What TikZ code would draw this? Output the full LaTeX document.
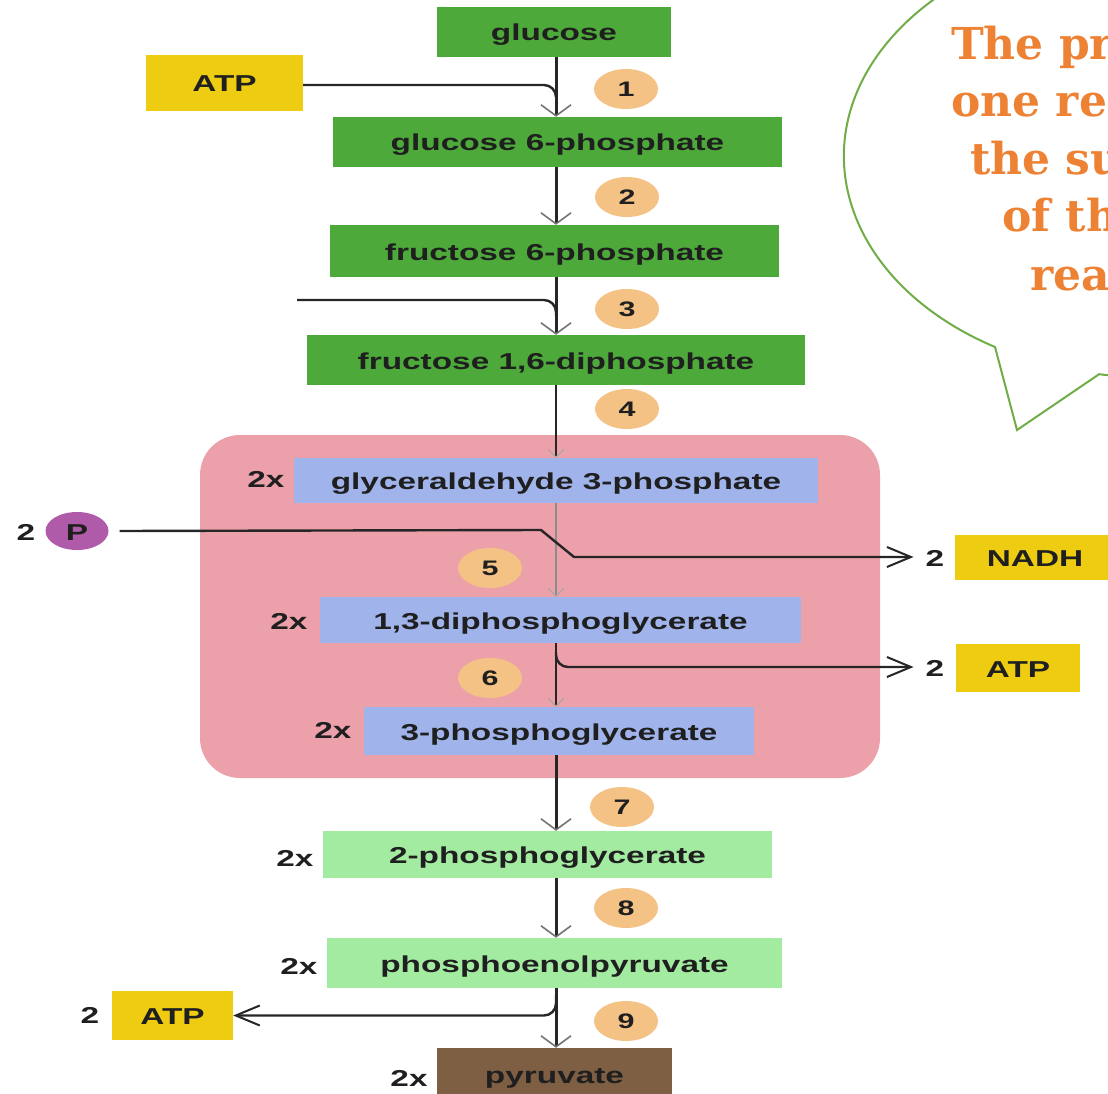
\documentclass[tikz,border=0pt]{standalone}
\usepackage{fontspec}
\usetikzlibrary{arrows.meta,shapes.geometric}
\newfontfamily\diagfont{Liberation Sans}[FakeStretch=1.45]
\newfontfamily\bubfont{DejaVu Serif}
\definecolor{dkgreen}{RGB}{76,169,58}
\definecolor{ylw}{RGB}{237,204,18}
\definecolor{pinkbg}{RGB}{236,160,170}
\definecolor{bluebx}{RGB}{160,180,235}
\definecolor{ltgreen}{RGB}{164,235,162}
\definecolor{brownbx}{RGB}{126,95,68}
\definecolor{orangec}{RGB}{243,194,132}
\definecolor{purplec}{RGB}{176,90,170}
\definecolor{orangetxt}{RGB}{238,130,52}
\definecolor{bubgreen}{RGB}{112,173,71}
\begin{document}
\begin{tikzpicture}[x=1pt,y=-1pt,
  bx/.style={inner sep=0pt, text height=18pt, text depth=0pt,
    font=\diagfont\bfseries\fontsize{23}{27}\selectfont, text=black!88},
  lbl/.style={inner sep=0pt, text height=18pt, text depth=0pt,
    font=\diagfont\bfseries\fontsize{23}{27}\selectfont, text=black!88},
  num/.style={ellipse, fill=orangec, minimum width=64pt, minimum height=40pt, inner sep=0pt,
    font=\diagfont\bfseries\fontsize{21}{24}\selectfont, text=black!88},
  spine/.style={line width=3pt, draw=black!85,
    -{Straight Barb[length=11pt,width=30pt,line width=1.6pt,color=black!55]}},
  spinein/.style={line width=2.2pt, draw=black!85,
    -{Straight Barb[length=8pt,width=16pt,line width=1pt,color=black!35]}},
  side/.style={line width=2.4pt, draw=black!85},
  outarrow/.style={-{Straight Barb[length=24pt,width=20pt,line width=2pt]}},
  bubtext/.style={anchor=base west, inner sep=0pt, text=orangetxt,
    font=\bubfont\bfseries\fontsize{44}{50}\selectfont}
]
\useasboundingbox (0,0) rectangle (1108,1094);

% pink region
\node[fill=pinkbg, rounded corners=40pt, minimum width=680pt, minimum height=343pt, inner sep=0pt] (pinkreg) at (540,606.5) {};

% speech bubble
\draw[bubgreen, line width=2pt, fill=white]
  (995,347) arc[start angle=120.3, end angle=459.4, x radius=305, y radius=221]
  -- (1017,430) -- cycle;
\node[bubtext] (b1) at (951,60) {The pr};
\node[bubtext] (b2) at (951,117) {one re};
\node[bubtext] (b3) at (970,175) {the su};
\node[bubtext] (b4) at (1002,232) {of th};
\node[bubtext] (b5) at (1030,290) {rea};

% boxes
\node[bx, fill=dkgreen, minimum width=234pt, minimum height=50pt] (glc) at (554,32) {glucose};
\node[bx, fill=dkgreen, minimum width=449pt, minimum height=50pt] (g6p) at (557.5,142) {glucose 6-phosphate};
\node[bx, fill=dkgreen, minimum width=449pt, minimum height=52pt] (f6p) at (554.5,251) {fructose 6-phosphate};
\node[bx, fill=dkgreen, minimum width=498pt, minimum height=50pt] (fbp) at (556,360) {fructose 1,6-diphosphate};
\node[bx, fill=bluebx, minimum width=524pt, minimum height=45pt] (gap) at (556,480.5) {glyceraldehyde 3-phosphate};
\node[bx, fill=bluebx, minimum width=481pt, minimum height=46pt] (dpg) at (560.5,620) {1,3-diphosphoglycerate};
\node[bx, fill=bluebx, minimum width=390pt, minimum height=48pt] (pg3) at (559,731) {3-phosphoglycerate};
\node[bx, fill=ltgreen, minimum width=449pt, minimum height=47pt] (pg2) at (547.5,854.5) {2-phosphoglycerate};
\node[bx, fill=ltgreen, minimum width=455pt, minimum height=50pt] (pep) at (554.5,963) {phosphoenolpyruvate};
\node[bx, fill=brownbx, minimum width=235pt, minimum height=52pt] (pyr) at (554.5,1074) {pyruvate};

\node[bx, fill=ylw, minimum width=157pt, minimum height=56pt] (atp1) at (224.5,83) {ATP};
\node[bx, fill=ylw, minimum width=160pt, minimum height=45pt] (nadh) at (1035,557.5) {NADH};
\node[bx, fill=ylw, minimum width=124pt, minimum height=48pt] (atp2) at (1018,668) {ATP};
\node[bx, fill=ylw, minimum width=121pt, minimum height=49pt] (atp3) at (172.5,1015.5) {ATP};

% 2x labels
\node[lbl] (x1) at (266,478) {2x};
\node[lbl] (x2) at (289,620) {2x};
\node[lbl] (x3) at (333,729) {2x};
\node[lbl] (x4) at (295,857) {2x};
\node[lbl] (x5) at (299,965) {2x};
\node[lbl] (x6) at (409,1077) {2x};

% 2 labels
\node[lbl] (n2a) at (935,557) {2};
\node[lbl] (n2b) at (935,667) {2};
\node[lbl] (n2c) at (90,1014) {2};
\node[lbl] (n2p) at (26,531) {2};
\node[ellipse, fill=purplec, minimum width=63pt, minimum height=38pt, inner sep=0pt,
  text height=18pt, text depth=0pt,
  font=\diagfont\bfseries\fontsize{23}{27}\selectfont, text=black!88] (pc) at (77,531) {P};

% step numbers
\node[num] (s1) at (626,89) {1};
\node[num] (s2) at (627,197) {2};
\node[num] (s3) at (627,309) {3};
\node[num] (s4) at (627,409) {4};
\node[num] (s5) at (490,568) {5};
\node[num] (s6) at (490,678) {6};
\node[num] (s7) at (622,807) {7};
\node[num] (s8) at (626,908) {8};
\node[num] (s9) at (626,1021) {9};

% spine
\coordinate (sx) at (556,0);
\draw[spine] (glc.south -| sx) -- (g6p.north -| sx);
\draw[spine] (g6p.south -| sx) -- (f6p.north -| sx);
\draw[spine] (f6p.south -| sx) -- (fbp.north -| sx);
\draw[spinein] (fbp.south -| sx) -- (gap.north -| sx);
\draw[spinein, draw=black!45, line width=1.6pt] (gap.south -| sx) -- (dpg.north -| sx);
\draw[spinein] (dpg.south -| sx) -- (pg3.north -| sx);
\draw[spine] (pg3.south -| sx) -- (pg2.north -| sx);
\draw[spine] (pg2.south -| sx) -- (pep.north -| sx);
\draw[spine] (pep.south -| sx) -- (pyr.north -| sx);

% side branches
\coordinate (j1) at (556,97);
\draw[side, rounded corners=12pt] ([yshift=-2pt]atp1.east) -| (j1);
\coordinate (st3) at (297,300);
\coordinate (j3) at (556,316);
\draw[side, rounded corners=12pt] (st3) -| (j3);
\coordinate (k5a) at (541,530);
\coordinate (k5b) at (574,557);
\draw[side, outarrow] ([xshift=11pt]pc.east) -- (k5a) -- (k5b) -- ([xshift=-12pt]n2a.west);
\coordinate (j6) at (556,652);
\draw[side, outarrow, rounded corners=12pt] (j6) |- ([xshift=-12pt]n2b.west);
\coordinate (j9) at (556,995);
\draw[side, outarrow, rounded corners=12pt] (j9) |- (atp3.east);
\end{tikzpicture}
\end{document}
